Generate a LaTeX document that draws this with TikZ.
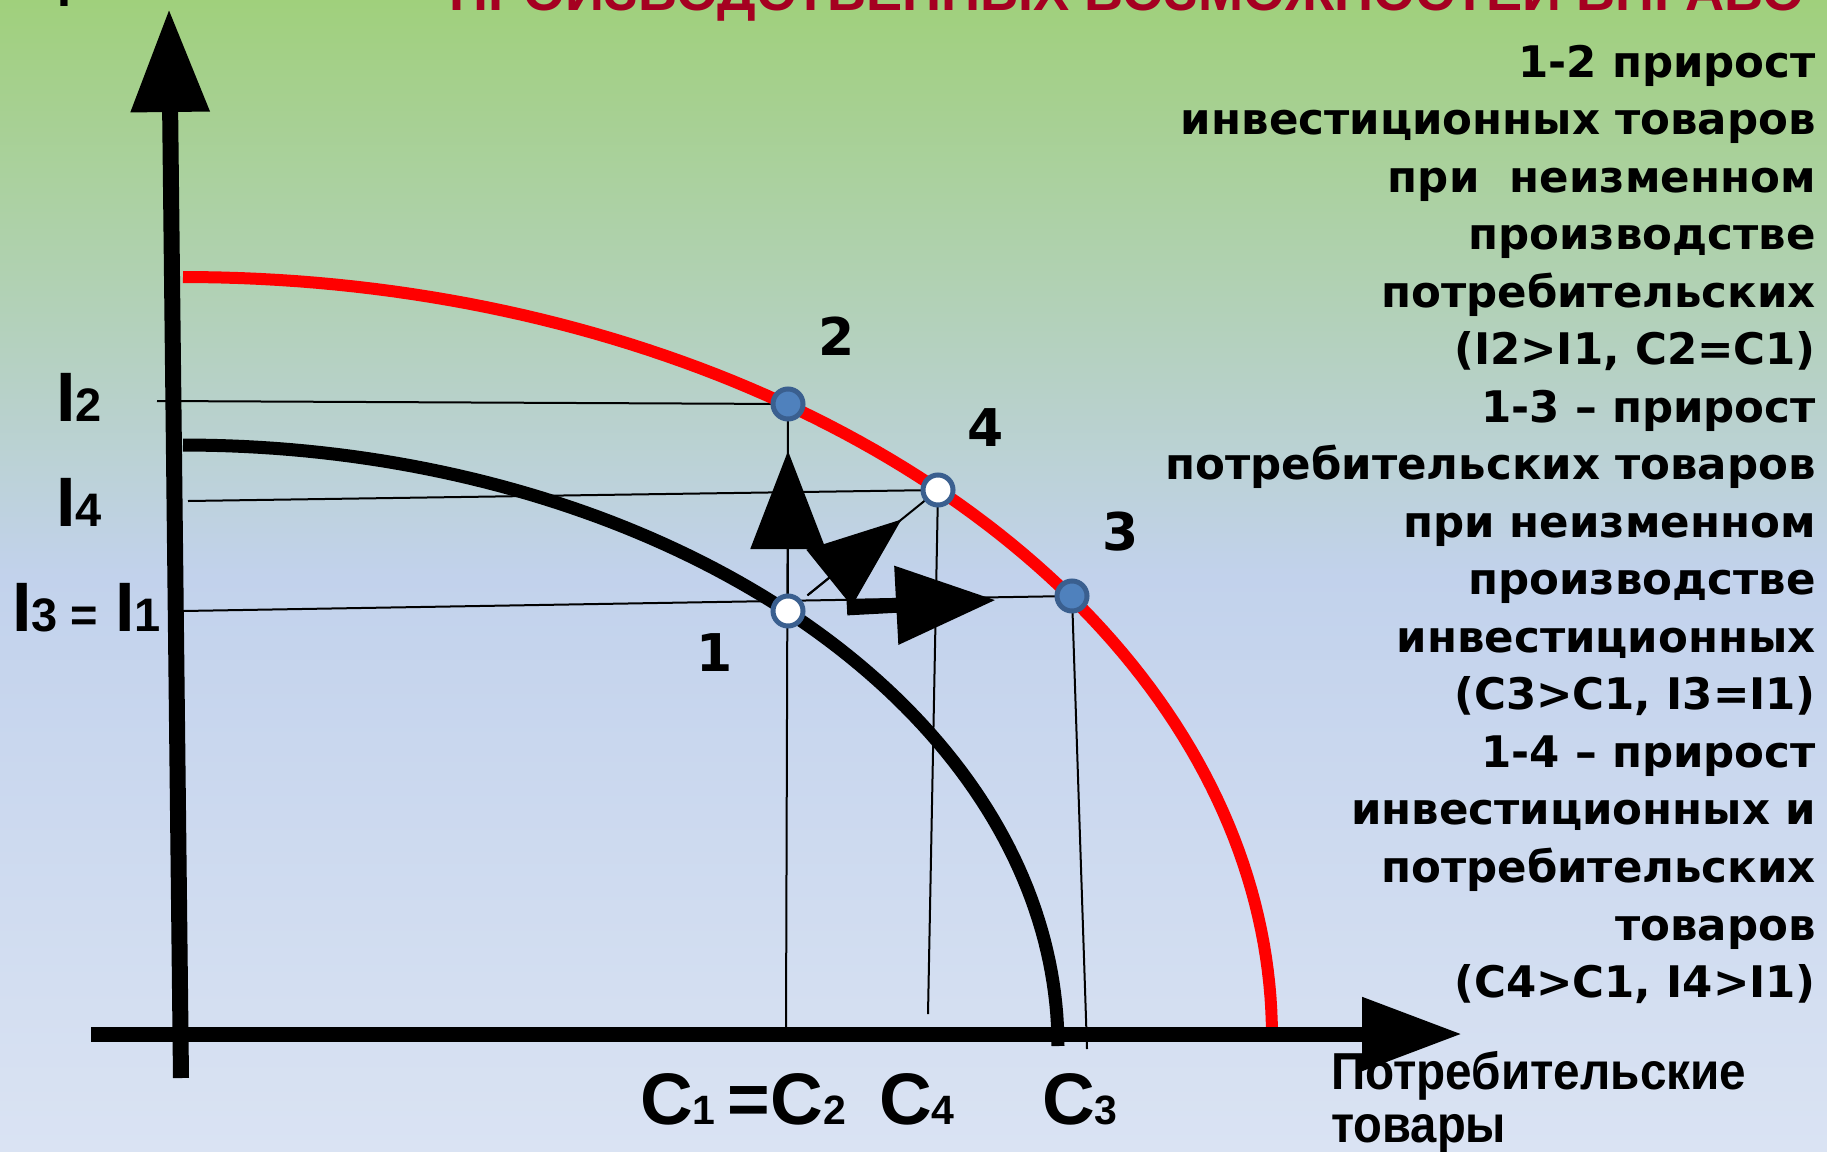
\documentclass[tikz,border=0pt]{standalone}
\usepackage{fontspec}
\usepackage{graphicx}
\usepackage{tikz}
\usetikzlibrary{arrows.meta, positioning, calc}
\setmainfont{Liberation Sans}
\newfontfamily\notefont{DejaVu Sans}
\definecolor{bggreen}{HTML}{A0D07C}
\definecolor{bgblue}{HTML}{C2D2EC}
\definecolor{bglight}{HTML}{DAE3F3}
\definecolor{ptblue}{HTML}{4F81BD}
\definecolor{ptedge}{HTML}{3A5F8F}
\definecolor{titlered}{HTML}{A50021}
\newcommand{\capC}[1]{{\fontsize{73}{73}\selectfont C}{\fontsize{41}{41}\selectfont #1}}
\newcommand{\capI}[1]{{\fontsize{70}{70}\selectfont I}{\fontsize{47}{47}\selectfont #1}}

\begin{document}
\begin{tikzpicture}[x=1pt, y=-1pt, font=\bfseries,
    guideline/.style={line width=2pt},
    axisline/.style={line width=16pt, -{Triangle[length=103pt, width=75pt]}},
    ppfdot/.style={circle, draw=ptedge, line width=5pt, minimum size=30pt, inner sep=0pt},
    dotfull/.style={ppfdot, fill=ptblue},
    dotempty/.style={ppfdot, fill=white},
    numlab/.style={font=\notefont\bfseries\fontsize{52}{52}\selectfont, inner sep=0pt},
    axlab/.style={inner sep=0pt, anchor=base west},
    note/.style={font=\notefont\bfseries\fontsize{43.5}{57.5}\selectfont, align=right, inner sep=0pt},
  ]
    \useasboundingbox (0,0) rectangle (1827,1151);
    \clip (0,0) rectangle (1827,1151);

    % background
    \shade[top color=bggreen, bottom color=bgblue] (0,0) rectangle (1827,576);
    \shade[top color=bgblue, bottom color=bglight] (0,575) rectangle (1827,1151);

    % title, cut off at the top
    \node[anchor=base, text=titlered, inner sep=0pt] (title) at (1127,10)
      {\resizebox{1355pt}{\height}{\fontsize{54}{54}\selectfont ПРОИЗВОДСТВЕННЫХ ВОЗМОЖНОСТЕЙ ВПРАВО}};
    \node[axlab] (ylab) at (57,6) {\fontsize{50}{50}\selectfont I};

    % points on the curves
    \coordinate (p1) at (788,611);
    \coordinate (p2) at (788,404);
    \coordinate (p4) at (938,490);
    \coordinate (p3) at (1072,596);

    % guide lines
    \coordinate (i2) at (157,401);
    \coordinate (i4) at (188,501);
    \coordinate (i1) at (183,611);
    \coordinate (c2) at (786,1027);
    \coordinate (c4) at (928,1014);
    \coordinate (c3) at (1087,1049);
    \draw[guideline] (i2) -- (p2);
    \draw[guideline] (i4) -- (p4);
    \draw[guideline] (i1) -- (p3);
    \draw[guideline] (p2) -- (c2);
    \draw[guideline] (p4) -- (c4);
    \draw[guideline] (p3) -- (c3);

    % production possibility curves
    \draw[red, line width=12pt] plot[domain=0:90, samples=90]
      ({183+1089*sin(\x)}, {1037-760*cos(\x)});
    \draw[line width=13pt] plot[domain=0:90, samples=90]
      ({183+875*sin(\x)}, {1046-601*cos(\x)});

    % axes
    \coordinate (ybot) at (181,1078);
    \coordinate (ytip) at (169,9);
    \coordinate (xleft) at (91,1034);
    \coordinate (xtip) at (1462,1034);
    \draw[axisline] (ybot) -- (ytip);
    \draw[axisline, line width=15pt, -{Triangle[length=100pt, width=70pt]}] (xleft) -- (xtip);

    % shifts from point 1
    \draw[guideline, shorten <=25pt] (p1) -- (p4);
    \draw[guideline, shorten >=47pt, -{Triangle[length=98pt, width=75pt]}] (p1) -- (p2);
    \draw[guideline, shorten <=25pt, shorten >=47pt, -{Triangle[length=93pt, width=72pt]}] (p1) -- (p4);
    \draw[line width=15pt, shorten <=59pt, shorten >=76pt, -{Triangle[length=100pt, width=75pt]}] (p1) -- (p3);

    \node[dotempty] (n1) at (p1) {};
    \node[dotfull]  (n2) at (p2) {};
    \node[dotempty] (n4) at (p4) {};
    \node[dotfull]  (n3) at (p3) {};

    \node[numlab] (lab1) at (715,653) {1};
    \node[numlab] (lab2) at (837,336) {2};
    \node[numlab] (lab4) at (986,428) {4};
    \node[numlab] (lab3) at (1121,532) {3};

    % axis labels
    \node[axlab] (i2lab) at (56,421) {\capI{2}};
    \node[axlab] (i4lab) at (56,526) {\capI{4}};
    \node[axlab] (i31lab) at (12,631)
      {\capI{3}\hspace{13pt}{\fontsize{47}{47}\selectfont =}\hspace{17pt}\capI{1}};
    \node[axlab] (c12lab) at (640,1124)
      {\capC{1}\hspace{12pt}{\fontsize{73}{73}\selectfont =}\capC{2}};
    \node[axlab] (c4lab) at (879,1124) {\capC{4}};
    \node[axlab] (c3lab) at (1042,1124) {\capC{3}};
    \node[axlab] (xlab1) at (1331,1089)
      {\resizebox{415pt}{\height}{\fontsize{52}{52}\selectfont Потребительские}};
    \node[axlab] (xlab2) at (1331,1142)
      {\resizebox{175pt}{\height}{\fontsize{52}{52}\selectfont товары}};

    % explanation
    \node[note, anchor=north east] (legend) at (1816,45)
      {1-2 прирост\\инвестиционных товаров\\при~ неизменном\\производстве\\потребительских\\(I2>I1, C2=C1)\\1-3 – прирост\\потребительских товаров\\при неизменном\\производстве\\инвестиционных\\(C3>C1, I3=I1)\\1-4 – прирост\\инвестиционных и\\потребительских\\товаров\\(C4>C1, I4>I1)};
\end{tikzpicture}
\end{document}
